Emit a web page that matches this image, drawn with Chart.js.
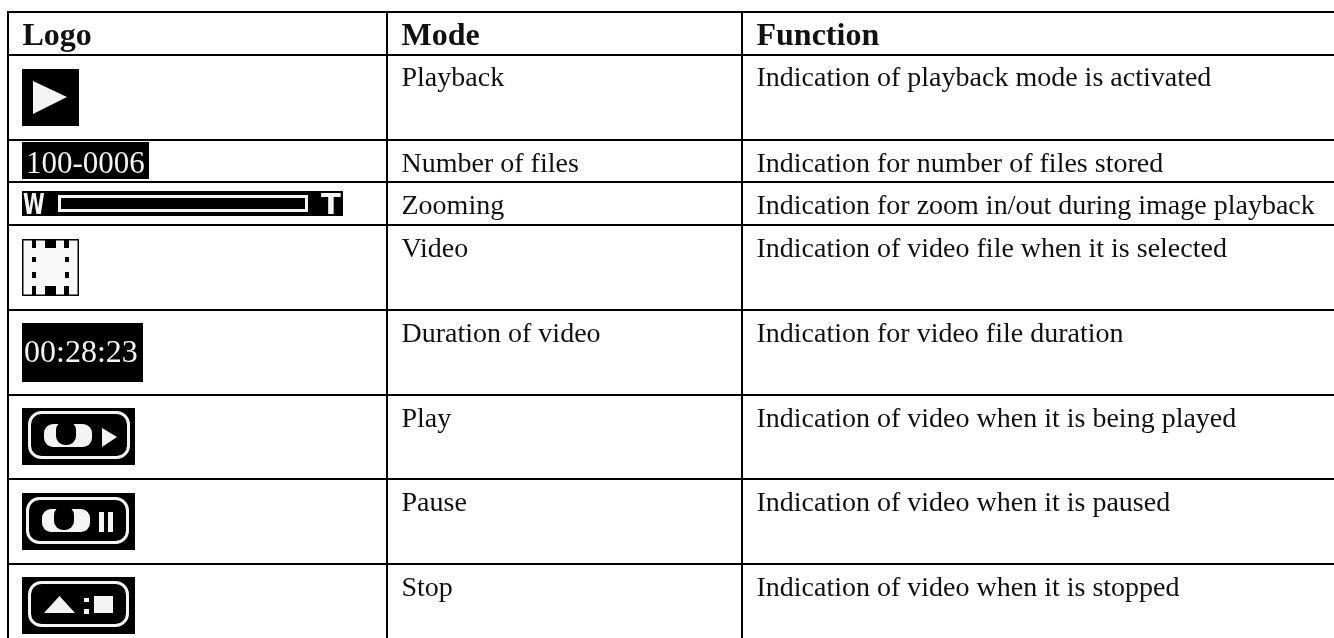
<!DOCTYPE html>
<html>
<head>
<meta charset="utf-8">
<title>Playback logos</title>
<script src="https://cdn.jsdelivr.net/npm/chart.js@4/dist/chart.umd.min.js"></script>
<style>
  html, body { margin: 0; padding: 0; background: #fff; }
  canvas { display: block; }
</style>
</head>
<body>
<canvas id="logoTable" width="1334" height="638"></canvas>
<script>
// table content
const headers = ['Logo', 'Mode', 'Function'];
const modes = ['Playback', 'Number of files', 'Zooming', 'Video', 'Duration of video', 'Play', 'Pause', 'Stop'];
const functions = [
    'Indication of playback mode is activated',
    'Indication for number of files stored',
    'Indication for zoom in/out during image playback',
    'Indication of video file when it is selected',
    'Indication for video file duration',
    'Indication of video when it is being played',
    'Indication of video when it is paused',
    'Indication of video when it is stopped'
];
const logos = ['arrow', 'counter', 'zoom', 'film', 'duration', 'play', 'pause', 'stop'];
const fileCounter = '100-0006';
const videoDuration = '00:28:23';
const zoomEnds = ['W', 'T'];

// layout, in page pixels
const colEdges = [8, 387, 742];
const rowEdges = [12, 55, 140, 182, 225, 310, 395, 479, 564];
const rowBaselines = [86, 172, 214, 257, 342, 427, 511, 596];
const headerBaseline = 45;
const logoTops = [69, 142, 191, 239, 323, 408, 493, 577];
const logoSizes = [[57, 57], [127, 37], [321, 25], [57, 57], [121, 59], [113, 57], [113, 57], [113, 57]];
const logoLeft = 22;
const textInset = 14.5;
const ink = '#111';
const white = '#f4f4f4';

function pill(g, x0, y0, x1, y1) {
    g.strokeStyle = white;
    g.lineWidth = 3;
    g.beginPath();
    g.roundRect(x0, y0, x1 - x0, y1 - y0, 12);
    g.stroke();
}

function eye(g, dx) {
    g.fillStyle = white;
    g.beginPath();
    g.roundRect(22 + dx, 16, 48, 23, 9);
    g.fill();
    g.fillStyle = '#000';
    g.beginPath();
    g.roundRect(34 + dx, 13, 20, 24, 9);
    g.fill();
}

function poly(g, pts) {
    g.fillStyle = white;
    g.beginPath();
    pts.forEach((p, i) => i ? g.lineTo(p[0], p[1]) : g.moveTo(p[0], p[1]));
    g.closePath();
    g.fill();
}

const logoPainters = {
    arrow(g) { poly(g, [[11, 12], [45, 28], [11, 45]]); },
    counter() {},
    duration() {},
    zoom(g) {
        g.strokeStyle = white;
        g.lineWidth = 3;
        g.strokeRect(37.5, 5.5, 247, 14);
    },
    film(g) {
        g.fillStyle = '#f8f8f8';
        g.fillRect(1.5, 1.5, 54, 54);
        g.fillStyle = '#000';
        [[10, 0, 4, 9], [23, 0, 11, 9], [42, 0, 5, 9],
         [10, 47, 4, 10], [23, 47, 11, 10], [42, 47, 5, 10],
         [10, 18, 4, 5], [43, 18, 4, 5], [10, 33, 4, 6], [43, 33, 4, 6]
        ].forEach(r => g.fillRect(r[0], r[1], r[2], r[3]));
    },
    play(g) {
        pill(g, 7.5, 4.5, 106.5, 49.5);
        eye(g, 0);
        poly(g, [[80, 20], [95, 29], [80, 39]]);
    },
    pause(g) {
        pill(g, 5.5, 5.5, 105.5, 49.5);
        eye(g, -2);
        g.fillStyle = white;
        g.fillRect(77, 19, 5, 20);
        g.fillRect(86, 19, 5, 20);
    },
    stop(g) {
        pill(g, 7.5, 5.5, 105.5, 48.5);
        poly(g, [[22, 36], [53, 36], [37.5, 19]]);
        g.fillRect(62, 21, 5, 4);
        g.fillRect(62, 32, 5, 5);
        g.fillRect(72, 19, 19, 17);
    }
};

// each logo is a small canvas handed to the scatter dataset as its point style
const logoImages = logos.map((name, i) => {
    const c = document.createElement('canvas');
    c.width = logoSizes[i][0];
    c.height = logoSizes[i][1];
    const g = c.getContext('2d');
    g.fillStyle = '#000';
    g.fillRect(0, 0, c.width, c.height);
    g.filter = 'blur(0.5px)';
    logoPainters[name](g);
    return c;
});

const logoPoints = logos.map((name, i) => ({
    x: logoLeft + logoSizes[i][0] / 2,
    y: logoTops[i] + logoSizes[i][1] / 2
}));

const tableText = {
    id: 'tableText',
    afterDraw(chart) {
        const g = chart.ctx;
        const sx = chart.scales.x;
        const sy = chart.scales.y;
        const colX = col => sx.getPixelForValue(colEdges[col] + textInset);
        g.save();
        g.textBaseline = 'alphabetic';
        g.textAlign = 'left';
        g.fillStyle = ink;
        g.font = 'bold 32px "Liberation Serif"';
        headers.forEach((h, i) => g.fillText(h, colX(i), sy.getPixelForValue(headerBaseline)));
        g.font = '28px "Liberation Serif"';
        modes.forEach((m, i) => g.fillText(m, colX(1), sy.getPixelForValue(rowBaselines[i])));
        functions.forEach((f, i) => g.fillText(f, colX(2), sy.getPixelForValue(rowBaselines[i])));

        // text sitting on the black logos
        g.fillStyle = white;
        g.font = '31px "Liberation Serif"';
        g.fillText(fileCounter, sx.getPixelForValue(26), sy.getPixelForValue(173));
        g.font = '32px "Liberation Serif"';
        g.fillText(videoDuration, sx.getPixelForValue(24), sy.getPixelForValue(362));
        g.font = 'bold 29px "DejaVu Sans"';
        g.save();
        g.translate(sx.getPixelForValue(23), sy.getPixelForValue(214));
        g.scale(0.68, 1);
        g.fillText(zoomEnds[0], 0, 0);
        g.restore();
        g.fillText(zoomEnds[1], sx.getPixelForValue(321), sy.getPixelForValue(214));
        g.restore();
    }
};

new Chart(document.getElementById('logoTable'), {
    type: 'scatter',
    data: {
        datasets: [{
            data: logoPoints,
            pointStyle: logoImages,
            pointRadius: 10,
            clip: false
        }]
    },
    options: {
        responsive: false,
        animation: false,
        events: [],
        layout: { autoPadding: false, padding: { left: 7, top: 11, right: 0, bottom: 0 } },
        plugins: { legend: { display: false }, tooltip: { enabled: false } },
        scales: {
            x: {
                type: 'linear',
                min: 7,
                max: 1334,
                afterBuildTicks: axis => { axis.ticks = colEdges.map(v => ({ value: v })); },
                ticks: { display: false },
                border: { display: false },
                grid: { color: '#000', lineWidth: 2, drawTicks: false }
            },
            y: {
                type: 'linear',
                reverse: true,
                min: 11,
                max: 638,
                afterBuildTicks: axis => { axis.ticks = rowEdges.map(v => ({ value: v })); },
                ticks: { display: false },
                border: { display: false },
                grid: { color: '#000', lineWidth: 2, drawTicks: false }
            }
        }
    },
    plugins: [tableText]
});
</script>
</body>
</html>
